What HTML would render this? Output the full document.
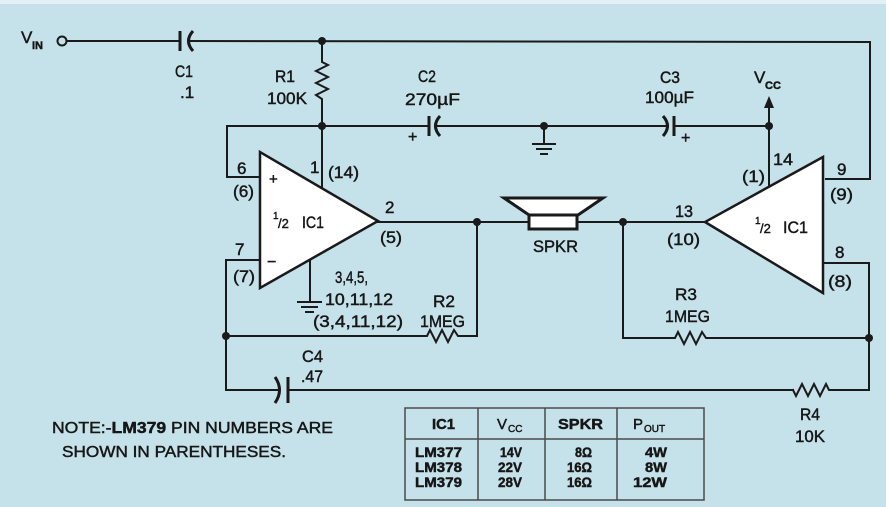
<!DOCTYPE html>
<html><head><meta charset="utf-8"><style>
html,body{margin:0;padding:0;background:#c5e1e9;}
svg{display:block;}
text{font-family:"Liberation Sans",sans-serif;fill:#161616;stroke:#161616;stroke-width:0.45px;}
</style></head><body>
<svg width="886" height="507" viewBox="0 0 886 507" xmlns="http://www.w3.org/2000/svg">
<rect x="0" y="0" width="886" height="507" fill="#c5e1e9"/>
<rect x="0" y="0" width="886" height="4" fill="#e4f0f3"/>
<g stroke="#1a1a1a" stroke-width="2" fill="none" stroke-linecap="square">
<line x1="67" y1="41" x2="180" y2="41"/>
<line x1="189" y1="41" x2="870" y2="42"/>
<polyline points="870,42 870,179 826,179"/>
<polyline points="322,41 322,62 328,65 316,71 328,77 316,83 328,89 316,95 322,99 322,126"/>
<line x1="227" y1="126" x2="429" y2="126"/>
<line x1="436" y1="126" x2="666" y2="126"/>
<line x1="674" y1="126" x2="769" y2="126"/>
<line x1="544" y1="126" x2="544" y2="144"/>
<line x1="533" y1="144" x2="555" y2="144"/>
<line x1="537" y1="149" x2="551" y2="149"/>
<line x1="541" y1="154" x2="547" y2="154"/>
<line x1="769" y1="106" x2="769" y2="187"/>
<line x1="322" y1="126" x2="322" y2="188"/>
<polyline points="227,126 227,177 260,177"/>
<polyline points="260,260 226,260 226,390 278,390"/>
<line x1="288" y1="390" x2="793" y2="390"/>
<line x1="310" y1="260" x2="310" y2="302"/>
<line x1="298" y1="302" x2="321" y2="302"/>
<line x1="302" y1="307" x2="317" y2="307"/>
<line x1="306" y1="312" x2="313" y2="312"/>
<line x1="378" y1="222" x2="528" y2="222"/>
<polyline points="226,336 427,336 430,330 436,342 442,330 448,342 454,330 458,336 477,336 477,222"/>
<line x1="577" y1="222" x2="705" y2="222"/>
<polyline points="623,222 623,338 675,338 678,332 684,344 690,332 696,344 702,332 706,338 869,338"/>
<polyline points="823,263 869,263 869,390 829,390 826,384 820,396 814,384 808,396 802,384 796,396 793,390"/>
</g>
<circle cx="62" cy="41" r="4.5" fill="#c5e1e9" stroke="#1a1a1a" stroke-width="2"/>
<g stroke="#1a1a1a" stroke-width="3" fill="none">
<line x1="180" y1="31" x2="180" y2="51"/>
<path d="M193,31 Q184,41 193,51"/>
<line x1="429" y1="116" x2="429" y2="136"/>
<path d="M440,116 Q431,126 440,136"/>
<path d="M663,116 Q672,126 663,136"/>
<line x1="674" y1="116" x2="674" y2="136"/>
<path d="M275,377 Q284,390 275,403"/>
<line x1="288" y1="377" x2="288" y2="403"/>
</g>
<polygon points="769,96 764,108 774,108" fill="#1a1a1a"/>
<g fill="#1a1a1a">
<circle cx="322" cy="41" r="4"/>
<circle cx="322" cy="126" r="4"/>
<circle cx="544" cy="126" r="4"/>
<circle cx="769" cy="126" r="4"/>
<circle cx="477" cy="222" r="4"/>
<circle cx="623" cy="222" r="4"/>
<circle cx="226" cy="336" r="4"/>
<circle cx="869" cy="338" r="4"/>
</g>
<polygon points="260,152 260,288 378,221" fill="#fff" stroke="#1a1a1a" stroke-width="2.5"/>
<polygon points="823,157 823,293 705,222" fill="#fff" stroke="#1a1a1a" stroke-width="2.5"/>
<polygon points="504,198 603,198 578,215 529,215" fill="#fff" stroke="#1a1a1a" stroke-width="3"/>
<rect x="529" y="215" width="48" height="14" fill="#fff" stroke="#1a1a1a" stroke-width="3"/>

<g font-size="17">
<text x="21" y="43">V</text>
<text x="32" y="49" font-size="11" font-weight="bold">IN</text>
<text x="175" y="77" textLength="18" lengthAdjust="spacingAndGlyphs">C1</text>
<text x="180" y="98">.1</text>
<text x="275" y="82" textLength="20" lengthAdjust="spacingAndGlyphs">R1</text>
<text x="267" y="104" textLength="40" lengthAdjust="spacingAndGlyphs">100K</text>
<text x="418" y="82" textLength="18" lengthAdjust="spacingAndGlyphs">C2</text>
<text x="405" y="105" textLength="55" lengthAdjust="spacingAndGlyphs">270µF</text>
<text x="408" y="142" font-size="16">+</text>
<text x="660" y="83" textLength="20" lengthAdjust="spacingAndGlyphs">C3</text>
<text x="645" y="103" textLength="49" lengthAdjust="spacingAndGlyphs">100µF</text>
<text x="681" y="143" font-size="16">+</text>
<text x="754" y="83">V</text>
<text x="765" y="89" font-size="11" font-weight="bold">CC</text>
<text x="237" y="174">6</text>
<text x="233" y="197" textLength="21" lengthAdjust="spacingAndGlyphs">(6)</text>
<text x="269" y="184" font-size="15">+</text>
<text x="310" y="173">1</text>
<text x="328" y="178" textLength="31" lengthAdjust="spacingAndGlyphs">(14)</text>
<text x="273" y="219" font-size="10">1</text>
<text x="278" y="228" font-size="13">/2</text>
<text x="302" y="228" textLength="22" lengthAdjust="spacingAndGlyphs">IC1</text>
<text x="385" y="213">2</text>
<text x="380" y="243" textLength="22" lengthAdjust="spacingAndGlyphs">(5)</text>
<text x="235" y="255">7</text>
<text x="233" y="282" textLength="22" lengthAdjust="spacingAndGlyphs">(7)</text>
<text x="267" y="267" font-size="16">−</text>
<text x="335" y="283" textLength="33" lengthAdjust="spacingAndGlyphs">3,4,5,</text>
<text x="325" y="305" textLength="68" lengthAdjust="spacingAndGlyphs">10,11,12</text>
<text x="313" y="327" textLength="90" lengthAdjust="spacingAndGlyphs">(3,4,11,12)</text>
<text x="433" y="307" textLength="22" lengthAdjust="spacingAndGlyphs">R2</text>
<text x="420" y="327" textLength="45" lengthAdjust="spacingAndGlyphs">1MEG</text>
<text x="533" y="252" textLength="45" lengthAdjust="spacingAndGlyphs">SPKR</text>
<text x="675" y="217" textLength="18" lengthAdjust="spacingAndGlyphs">13</text>
<text x="667" y="245" textLength="33" lengthAdjust="spacingAndGlyphs">(10)</text>
<text x="755" y="224" font-size="10">1</text>
<text x="760" y="233" font-size="13">/2</text>
<text x="783" y="233" textLength="25" lengthAdjust="spacingAndGlyphs">IC1</text>
<text x="773" y="165" textLength="20" lengthAdjust="spacingAndGlyphs">14</text>
<text x="742" y="182" textLength="23" lengthAdjust="spacingAndGlyphs">(1)</text>
<text x="837" y="175">9</text>
<text x="830" y="200" textLength="23" lengthAdjust="spacingAndGlyphs">(9)</text>
<text x="835" y="258">8</text>
<text x="828" y="287" textLength="24" lengthAdjust="spacingAndGlyphs">(8)</text>
<text x="675" y="300" textLength="22" lengthAdjust="spacingAndGlyphs">R3</text>
<text x="665" y="322" textLength="45" lengthAdjust="spacingAndGlyphs">1MEG</text>
<text x="302" y="362" textLength="21" lengthAdjust="spacingAndGlyphs">C4</text>
<text x="301" y="382" textLength="22" lengthAdjust="spacingAndGlyphs">.47</text>
<text x="800" y="420" textLength="20" lengthAdjust="spacingAndGlyphs">R4</text>
<text x="795" y="442" textLength="30" lengthAdjust="spacingAndGlyphs">10K</text>
<text x="52" y="433" font-size="16" textLength="281" lengthAdjust="spacingAndGlyphs">NOTE:-<tspan font-weight="bold">LM379</tspan> PIN NUMBERS ARE</text>
<text x="62" y="457" font-size="16" textLength="224" lengthAdjust="spacingAndGlyphs">SHOWN IN PARENTHESES.</text>
</g>
<g stroke="#4a4a4a" stroke-width="1.5" fill="none">
<rect x="405" y="408" width="299" height="92"/>
<line x1="405" y1="439" x2="704" y2="439"/>
<line x1="478" y1="408" x2="478" y2="500"/>
<line x1="545" y1="408" x2="545" y2="500"/>
<line x1="617" y1="408" x2="617" y2="500"/>
</g>
<g font-size="15">
<text x="432" y="429" textLength="23" lengthAdjust="spacingAndGlyphs" font-weight="bold">IC1</text>
<text x="497" y="429">V</text>
<text x="508" y="432" font-size="10">CC</text>
<text x="558" y="429" textLength="45" lengthAdjust="spacingAndGlyphs" font-weight="bold">SPKR</text>
<text x="633" y="429">P</text>
<text x="644" y="432" font-size="10">OUT</text>
</g>
<g font-size="14" font-weight="bold">
<text x="415" y="457" textLength="47" lengthAdjust="spacingAndGlyphs">LM377</text>
<text x="415" y="472" textLength="47" lengthAdjust="spacingAndGlyphs">LM378</text>
<text x="415" y="487" textLength="47" lengthAdjust="spacingAndGlyphs">LM379</text>
<text x="500" y="457" textLength="22" lengthAdjust="spacingAndGlyphs">14V</text>
<text x="498" y="472" textLength="24" lengthAdjust="spacingAndGlyphs">22V</text>
<text x="498" y="487" textLength="24" lengthAdjust="spacingAndGlyphs">28V</text>
<text x="575" y="457" textLength="17" lengthAdjust="spacingAndGlyphs">8Ω</text>
<text x="567" y="472" textLength="25" lengthAdjust="spacingAndGlyphs">16Ω</text>
<text x="567" y="487" textLength="25" lengthAdjust="spacingAndGlyphs">16Ω</text>
<text x="645" y="457" textLength="22" lengthAdjust="spacingAndGlyphs">4W</text>
<text x="645" y="472" textLength="22" lengthAdjust="spacingAndGlyphs">8W</text>
<text x="633" y="487" textLength="34" lengthAdjust="spacingAndGlyphs">12W</text>
</g>
</svg>
</body></html>
